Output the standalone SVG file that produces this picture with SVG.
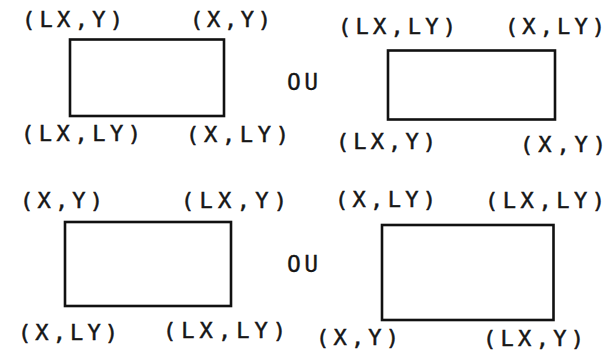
<svg xmlns="http://www.w3.org/2000/svg" width="609" height="355" viewBox="0 0 609 355">
  <style>
    .box { fill: #ffffff; stroke: #111111; stroke-width: 2.6; }
    .lbl { font-family: "DejaVu Sans Mono", "Liberation Mono", monospace; font-size: 22px; fill: #161616; stroke: #161616; stroke-width: 0.5; }
    .or { font-family: "DejaVu Sans Mono", "Liberation Mono", monospace; font-size: 23px; fill: #161616; stroke: #161616; stroke-width: 0.3; }
  </style>
  <rect width="609" height="355" fill="#ffffff"/>

  <!-- corner ordering 1: Y at top, X at right -->
  <g id="case-a">
    <rect class="box" x="70" y="39.5" width="154" height="76.5"/>
    <text class="lbl" x="22" y="27" textLength="101" lengthAdjust="spacing">(LX,Y)</text>
    <text class="lbl" x="190" y="27" textLength="81" lengthAdjust="spacing">(X,Y)</text>
    <text class="lbl" x="21" y="141" textLength="120" lengthAdjust="spacing">(LX,LY)</text>
    <text class="lbl" x="186" y="142" textLength="103" lengthAdjust="spacing">(X,LY)</text>
  </g>

  <!-- corner ordering 2: LY at top, X at right -->
  <g id="case-b">
    <rect class="box" x="388" y="50.5" width="167" height="69"/>
    <text class="lbl" x="338" y="34" textLength="118" lengthAdjust="spacing">(LX,LY)</text>
    <text class="lbl" x="505" y="34" textLength="100" lengthAdjust="spacing">(X,LY)</text>
    <text class="lbl" x="336" y="149" textLength="100" lengthAdjust="spacing">(LX,Y)</text>
    <text class="lbl" x="520" y="152" textLength="86" lengthAdjust="spacing">(X,Y)</text>
  </g>

  <!-- corner ordering 3: Y at top, LX at right -->
  <g id="case-c">
    <rect class="box" x="65" y="222" width="166" height="84"/>
    <text class="lbl" x="20" y="208" textLength="83" lengthAdjust="spacing">(X,Y)</text>
    <text class="lbl" x="181" y="208" textLength="106" lengthAdjust="spacing">(LX,Y)</text>
    <text class="lbl" x="18" y="340" textLength="100" lengthAdjust="spacing">(X,LY)</text>
    <text class="lbl" x="163" y="338" textLength="123" lengthAdjust="spacing">(LX,LY)</text>
  </g>

  <!-- corner ordering 4: LY at top, LX at right -->
  <g id="case-d">
    <rect class="box" x="382" y="225" width="171.5" height="95"/>
    <text class="lbl" x="335" y="207" textLength="101" lengthAdjust="spacing">(X,LY)</text>
    <text class="lbl" x="485" y="208" textLength="120" lengthAdjust="spacing">(LX,LY)</text>
    <text class="lbl" x="316" y="345" textLength="83" lengthAdjust="spacing">(X,Y)</text>
    <text class="lbl" x="483" y="346" textLength="101" lengthAdjust="spacing">(LX,Y)</text>
  </g>

  <!-- "or" between alternatives -->
  <g id="or-top">
    <text class="or" x="287" y="90" textLength="31" lengthAdjust="spacing">OU</text>
  </g>
  <g id="or-bottom">
    <text class="or" x="287" y="272" textLength="31" lengthAdjust="spacing">OU</text>
  </g>
</svg>
